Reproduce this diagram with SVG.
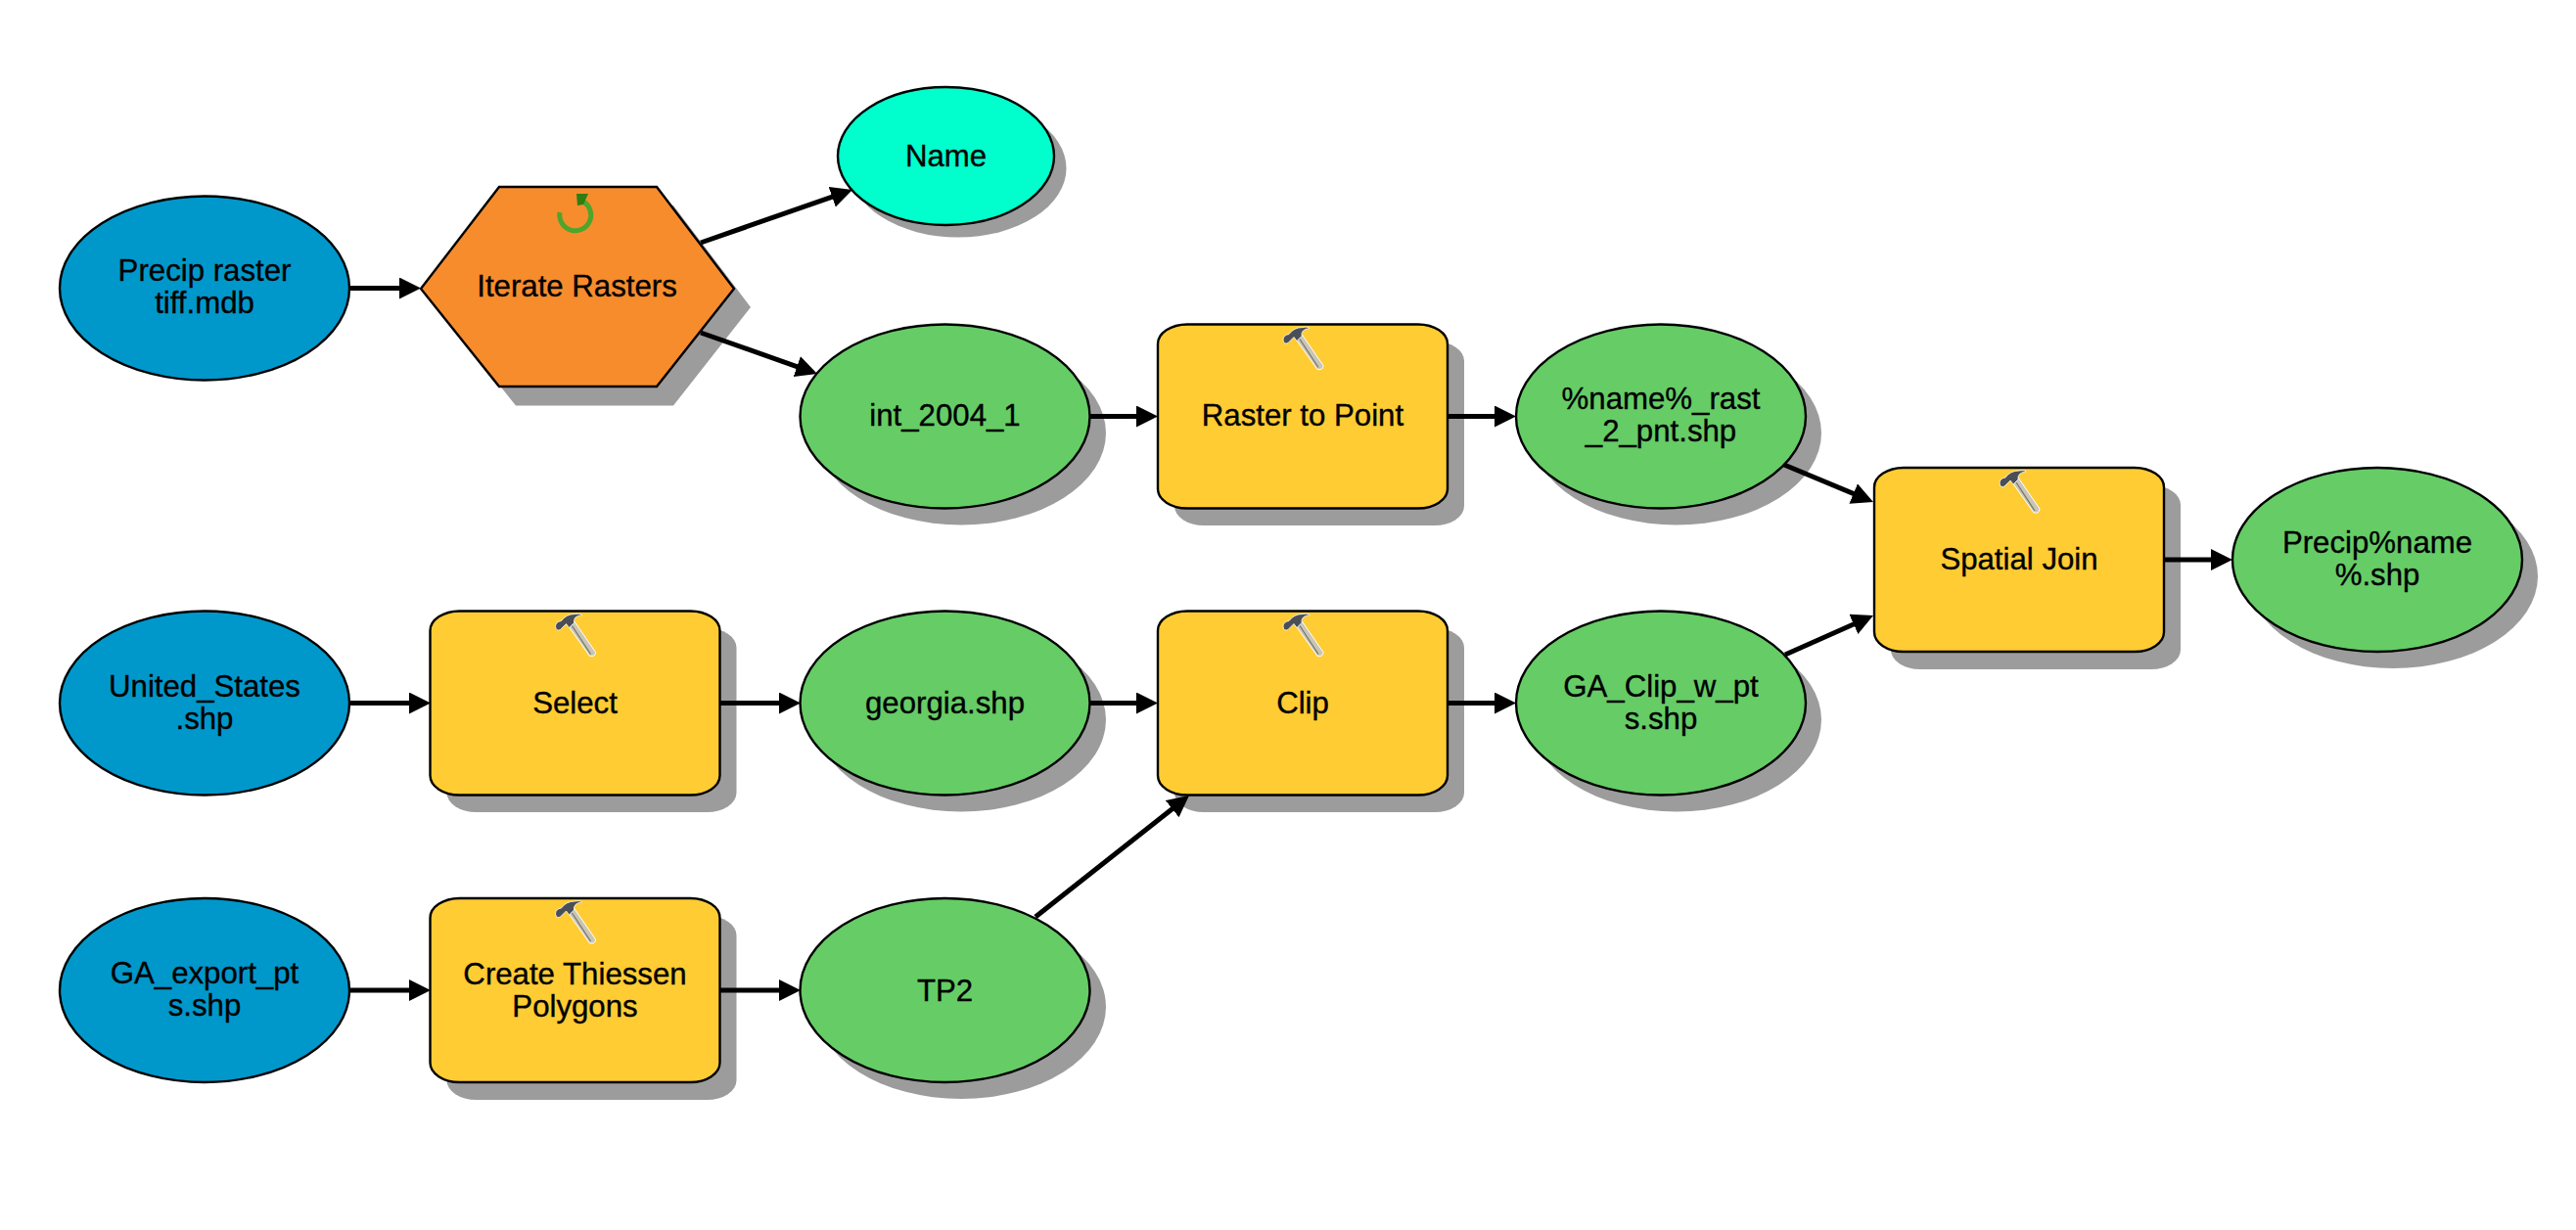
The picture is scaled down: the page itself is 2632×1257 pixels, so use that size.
<svg xmlns="http://www.w3.org/2000/svg" xmlns:xlink="http://www.w3.org/1999/xlink" width="2632" height="1257" viewBox="0 0 2632 1257">
<style>
text{font-family:"Liberation Sans",Arial,sans-serif;font-size:31.200px;fill:#000;stroke:#000;stroke-width:.35;text-anchor:middle}
.s{fill:#9c9c9c;stroke:none}
.o{stroke:#000;stroke-width:2.400}
.blue{fill:#0098cb}
.green{fill:#66cc66}
.cyan{fill:#00ffcc}
.tool{fill:#ffcc33}
.iter{fill:#f78c2d}
.c line{stroke:#000;stroke-width:5;marker-end:url(#a)}
</style>
<defs>
<marker id="a" markerUnits="userSpaceOnUse" markerWidth="24" markerHeight="24" refX="14" refY="11" orient="auto"><path d="M0 0L22 11L0 22Z" fill="#000"/></marker>
<g id="hammer">
<path d="M-7 15L-1 10L21 42Q21 47 15 46Z" fill="#c9c6b8" stroke="#fff" stroke-width="1"/>
<path d="M-3 15L16 44" stroke="#77756c" stroke-width="1.300" fill="none"/>
<path d="M-20 16Q-20 11-14 10Q-9 3 0 3Q6 2 7 4Q-2 5-1 12L-6 17L-9 13L-15 19Q-19 21-20 16Z" fill="#4a4f57" stroke="#fff" stroke-width=".8"/>
</g>
<rect id="box" x="-148" y="0" width="296" height="188" rx="30" ry="20"/>
</defs>

<g id="n-precip-raster">
<ellipse class="blue o" cx="209" cy="294.500" rx="148" ry="94"/>
<text x="209" y="287">Precip raster</text><text x="209" y="320">tiff.mdb</text>
</g>
<g id="n-iterate">
<path class="s" d="M527 210H688L767 314L688 414.500H527L447 314Z"/>
<path class="iter o" d="M510 191H671L750 295L671 395H510L430 295Z"/>
<path d="M572 217A16 16 0 1 0 596 206" fill="none" stroke="#4ea52b" stroke-width="5"/>
<path d="M589 198L601 198L596 209L590 210Z" fill="#2e7d14"/>
<text x="589.500" y="303">Iterate Rasters</text>
</g>
<g id="n-name">
<ellipse class="s" cx="979" cy="172" rx="110.500" ry="70.500"/>
<ellipse class="cyan o" cx="966.500" cy="159.500" rx="110.500" ry="70.500"/>
<text x="966.500" y="170">Name</text>
</g>
<g id="n-int">
<ellipse class="s" cx="982" cy="442.500" rx="148" ry="94"/>
<ellipse class="green o" cx="965.500" cy="425.500" rx="148" ry="94"/>
<text x="965.500" y="435">int_2004_1</text>
</g>
<g id="n-raster-to-point">
<use href="#box" xlink:href="#box" class="s" x="1348" y="349"/>
<use href="#box" xlink:href="#box" class="tool o" x="1331" y="331.500"/>
<use href="#hammer" xlink:href="#hammer" x="1331" y="331.500"/>
<text x="1331" y="435">Raster to Point</text>
</g>
<g id="n-rast-2-pnt">
<ellipse class="s" cx="1713" cy="442.500" rx="148" ry="94"/>
<ellipse class="green o" cx="1697" cy="425.500" rx="148" ry="94"/>
<text x="1697" y="418">%name%_rast</text><text x="1697" y="451">_2_pnt.shp</text>
</g>
<g id="n-spatial-join">
<use href="#box" xlink:href="#box" class="s" x="2080" y="496"/>
<use href="#box" xlink:href="#box" class="tool o" x="2063" y="478"/>
<use href="#hammer" xlink:href="#hammer" x="2063" y="478"/>
<text x="2063" y="582">Spatial Join</text>
</g>
<g id="n-precip-name">
<ellipse class="s" cx="2445" cy="589" rx="148" ry="94"/>
<ellipse class="green o" cx="2429" cy="572" rx="148" ry="94"/>
<text x="2429" y="565">Precip%name</text><text x="2429" y="598">%.shp</text>
</g>
<g id="n-united-states">
<ellipse class="blue o" cx="209" cy="718.500" rx="148" ry="94"/>
<text x="209" y="712">United_States</text><text x="209" y="745">.shp</text>
</g>
<g id="n-select">
<use href="#box" xlink:href="#box" class="s" x="604.500" y="642"/>
<use href="#box" xlink:href="#box" class="tool o" x="587.500" y="624.500"/>
<use href="#hammer" xlink:href="#hammer" x="587.500" y="624.500"/>
<text x="587.500" y="729">Select</text>
</g>
<g id="n-georgia">
<ellipse class="s" cx="982" cy="735.500" rx="148" ry="94"/>
<ellipse class="green o" cx="965.500" cy="718.500" rx="148" ry="94"/>
<text x="965.500" y="729">georgia.shp</text>
</g>
<g id="n-clip">
<use href="#box" xlink:href="#box" class="s" x="1348" y="642"/>
<use href="#box" xlink:href="#box" class="tool o" x="1331" y="624.500"/>
<use href="#hammer" xlink:href="#hammer" x="1331" y="624.500"/>
<text x="1331" y="729">Clip</text>
</g>
<g id="n-ga-clip">
<ellipse class="s" cx="1713" cy="735.500" rx="148" ry="94"/>
<ellipse class="green o" cx="1697" cy="718.500" rx="148" ry="94"/>
<text x="1697" y="712">GA_Clip_w_pt</text><text x="1697" y="745">s.shp</text>
</g>
<g id="n-ga-export">
<ellipse class="blue o" cx="209" cy="1012" rx="148" ry="94"/>
<text x="209" y="1005">GA_export_pt</text><text x="209" y="1038">s.shp</text>
</g>
<g id="n-thiessen">
<use href="#box" xlink:href="#box" class="s" x="604.500" y="936"/>
<use href="#box" xlink:href="#box" class="tool o" x="587.500" y="918"/>
<use href="#hammer" xlink:href="#hammer" x="587.500" y="918"/>
<text x="587.500" y="1006">Create Thiessen</text><text x="587.500" y="1039">Polygons</text>
</g>
<g id="n-tp2">
<ellipse class="s" cx="982" cy="1029" rx="148" ry="94"/>
<ellipse class="green o" cx="965.500" cy="1012" rx="148" ry="94"/>
<text x="965.500" y="1023">TP2</text>
</g>

<g id="connectors" class="c">
<line x1="357" y1="294.500" x2="422" y2="294.500"/>
<line x1="716" y1="248" x2="863.400" y2="196.600"/>
<line x1="716" y1="340" x2="827.500" y2="379.300"/>
<line x1="1113" y1="425.500" x2="1175" y2="425.500"/>
<line x1="1479" y1="425.500" x2="1541" y2="425.500"/>
<line x1="1823" y1="475" x2="1906.600" y2="509.900"/>
<line x1="1824" y1="669" x2="1906.700" y2="632.200"/>
<line x1="2212" y1="572" x2="2273" y2="572"/>
<line x1="357" y1="718.500" x2="432" y2="718.500"/>
<line x1="735" y1="718.500" x2="810" y2="718.500"/>
<line x1="1113" y1="718.500" x2="1175" y2="718.500"/>
<line x1="1479" y1="718.500" x2="1541" y2="718.500"/>
<line x1="357" y1="1012" x2="432" y2="1012"/>
<line x1="735" y1="1012" x2="810" y2="1012"/>
<line x1="1058" y1="937" x2="1208.700" y2="818"/>
</g>
</svg>
